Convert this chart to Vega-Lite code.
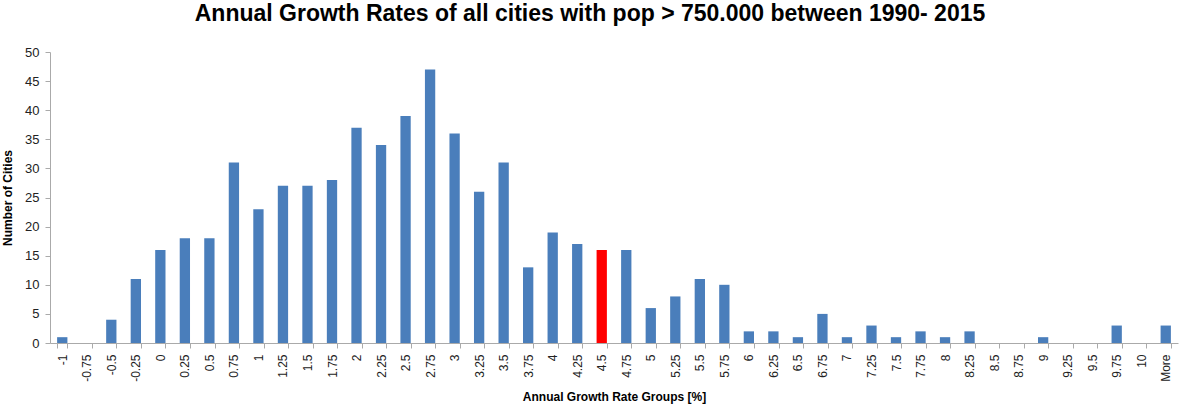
{
  "$schema": "https://vega.github.io/schema/vega-lite/v6.json",
  "width": 1128,
  "height": 291,
  "autosize": {"type": "none"},
  "padding": {"left": 50, "top": 52, "right": 3, "bottom": 67},
  "background": "white",
  "title": {
    "text": "Annual Growth Rates of all cities with pop > 750.000 between 1990- 2015",
    "font": "Liberation Sans",
    "fontSize": 23,
    "fontWeight": "bold",
    "color": "#000000",
    "anchor": "middle",
    "offset": 20,
    "dx": -24
  },
  "config": {"view": {"stroke": null}},
  "data": {
    "values": [
      {"group": "-1", "count": 1, "hl": "n"},
      {"group": "-0.75", "count": 0, "hl": "n"},
      {"group": "-0.5", "count": 4, "hl": "n"},
      {"group": "-0.25", "count": 11, "hl": "n"},
      {"group": "0", "count": 16, "hl": "n"},
      {"group": "0.25", "count": 18, "hl": "n"},
      {"group": "0.5", "count": 18, "hl": "n"},
      {"group": "0.75", "count": 31, "hl": "n"},
      {"group": "1", "count": 23, "hl": "n"},
      {"group": "1.25", "count": 27, "hl": "n"},
      {"group": "1.5", "count": 27, "hl": "n"},
      {"group": "1.75", "count": 28, "hl": "n"},
      {"group": "2", "count": 37, "hl": "n"},
      {"group": "2.25", "count": 34, "hl": "n"},
      {"group": "2.5", "count": 39, "hl": "n"},
      {"group": "2.75", "count": 47, "hl": "n"},
      {"group": "3", "count": 36, "hl": "n"},
      {"group": "3.25", "count": 26, "hl": "n"},
      {"group": "3.5", "count": 31, "hl": "n"},
      {"group": "3.75", "count": 13, "hl": "n"},
      {"group": "4", "count": 19, "hl": "n"},
      {"group": "4.25", "count": 17, "hl": "n"},
      {"group": "4.5", "count": 16, "hl": "y"},
      {"group": "4.75", "count": 16, "hl": "n"},
      {"group": "5", "count": 6, "hl": "n"},
      {"group": "5.25", "count": 8, "hl": "n"},
      {"group": "5.5", "count": 11, "hl": "n"},
      {"group": "5.75", "count": 10, "hl": "n"},
      {"group": "6", "count": 2, "hl": "n"},
      {"group": "6.25", "count": 2, "hl": "n"},
      {"group": "6.5", "count": 1, "hl": "n"},
      {"group": "6.75", "count": 5, "hl": "n"},
      {"group": "7", "count": 1, "hl": "n"},
      {"group": "7.25", "count": 3, "hl": "n"},
      {"group": "7.5", "count": 1, "hl": "n"},
      {"group": "7.75", "count": 2, "hl": "n"},
      {"group": "8", "count": 1, "hl": "n"},
      {"group": "8.25", "count": 2, "hl": "n"},
      {"group": "8.5", "count": 0, "hl": "n"},
      {"group": "8.75", "count": 0, "hl": "n"},
      {"group": "9", "count": 1, "hl": "n"},
      {"group": "9.25", "count": 0, "hl": "n"},
      {"group": "9.5", "count": 0, "hl": "n"},
      {"group": "9.75", "count": 3, "hl": "n"},
      {"group": "10", "count": 0, "hl": "n"},
      {"group": "More", "count": 3, "hl": "n"}
    ]
  },
  "mark": {"type": "bar"},
  "encoding": {
    "x": {
      "field": "group",
      "type": "nominal",
      "sort": null,
      "scale": {"paddingInner": 0.58, "paddingOuter": 0.29},
      "axis": {
        "title": "Annual Growth Rate Groups [%]",
        "titleFont": "Liberation Sans",
        "titleFontSize": 12,
        "titleFontWeight": "bold",
        "titleColor": "#000000",
        "titlePadding": 10,
        "labelAngle": -90,
        "labelAlign": "right",
        "labelBaseline": "middle",
        "labelFont": "Liberation Sans",
        "labelFontSize": 12,
        "labelColor": "#222222",
        "labelPadding": 6,
        "labelOverlap": false,
        "domainColor": "#aaaaaa",
        "tickColor": "#aaaaaa",
        "tickBand": "extent",
        "tickSize": 5,
        "grid": false
      }
    },
    "y": {
      "field": "count",
      "type": "quantitative",
      "scale": {"domain": [0, 50], "nice": false},
      "axis": {
        "title": "Number of Cities",
        "titleFont": "Liberation Sans",
        "titleFontSize": 12,
        "titleFontWeight": "bold",
        "titleColor": "#000000",
        "titlePadding": 10,
        "values": [0, 5, 10, 15, 20, 25, 30, 35, 40, 45, 50],
        "labelFont": "Liberation Sans",
        "labelFontSize": 13,
        "labelColor": "#222222",
        "labelPadding": 6,
        "domainColor": "#aaaaaa",
        "tickColor": "#aaaaaa",
        "tickSize": 5,
        "grid": false
      }
    },
    "color": {
      "field": "hl",
      "type": "nominal",
      "scale": {"domain": ["n", "y"], "range": ["#4A7EBB", "#FF0000"]},
      "legend": null
    }
  }
}
